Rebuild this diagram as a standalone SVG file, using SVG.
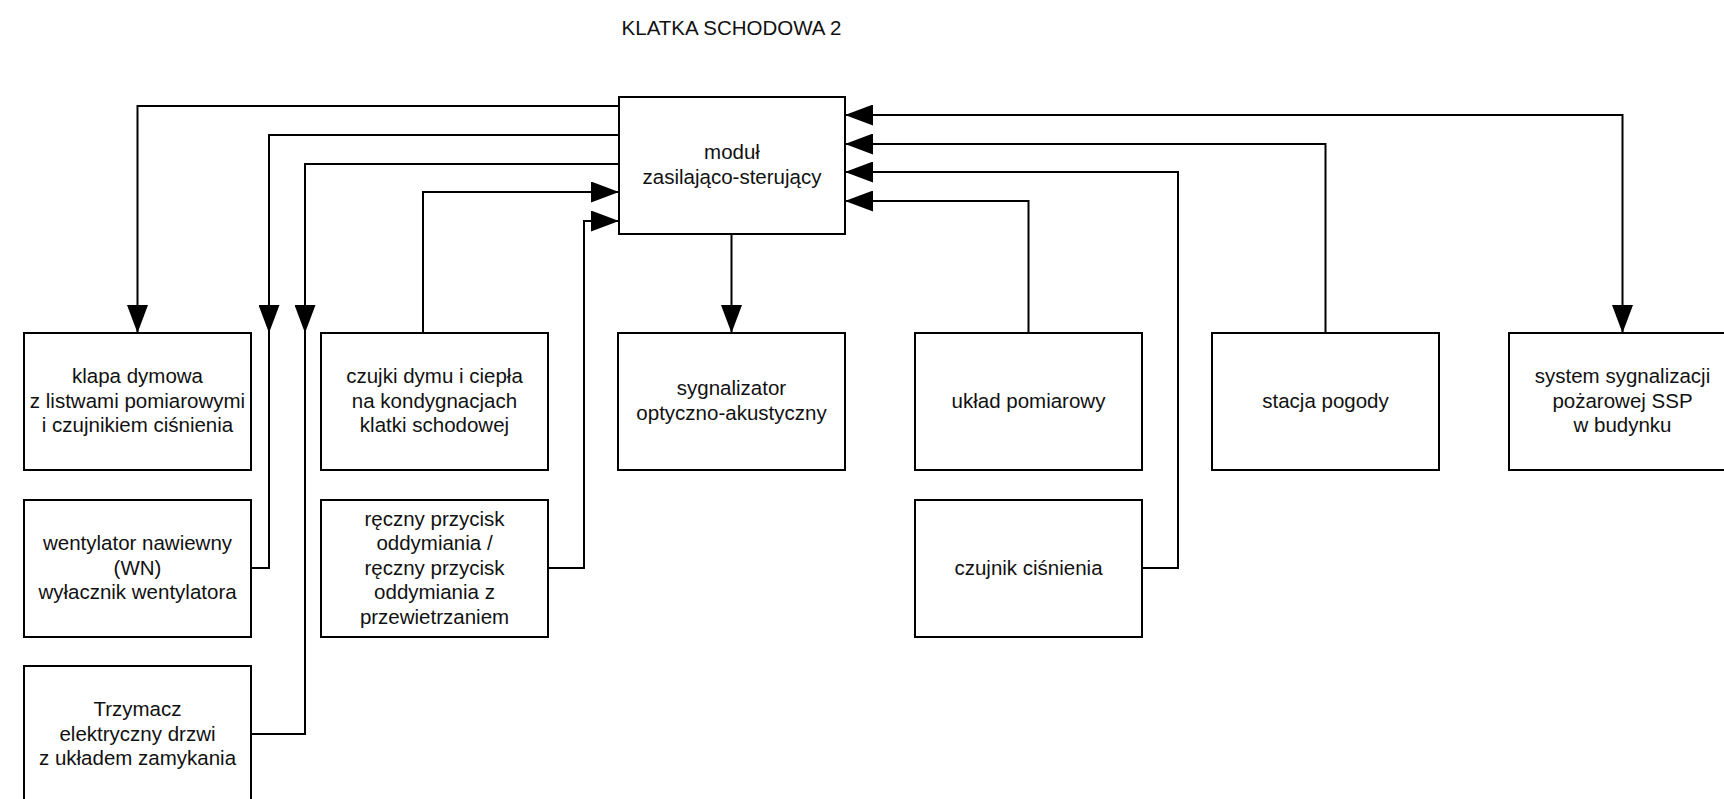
<svg xmlns="http://www.w3.org/2000/svg" width="1724" height="799" viewBox="0 0 1724 799">
<style>
.box{fill:#fff;stroke:#000;stroke-width:2}
.t{font-family:"Liberation Sans",Arial,sans-serif;font-size:20.5px;fill:#111;text-anchor:middle}
.c{fill:none;stroke:#000;stroke-width:2}
.a{marker-end:url(#arr)}
</style>
<defs>
<marker id="arr" markerUnits="userSpaceOnUse" markerWidth="28" markerHeight="21" refX="28" refY="10.5" orient="auto-start-reverse" viewBox="0 0 28 21">
<path d="M0,0 L28,10.5 L0,21 Z" fill="#000"/>
</marker>
</defs>
<rect width="1724" height="799" fill="#fff"/>
<text class="t" x="731.5" y="35">KLATKA SCHODOWA 2</text>

<g id="connectors">
<path class="c a" d="M619,106 H137.5 V333"/>
<path class="c a" d="M619,135 H269 V333"/>
<path class="c" d="M251,568 H269 V331"/>
<path class="c a" d="M619,164 H305 V333"/>
<path class="c" d="M251,734 H305 V331"/>
<path class="c a" d="M423,333 V192 H619"/>
<path class="c a" d="M548,568 H584 V221 H619"/>
<path class="c a" d="M731.5,234 V333"/>
<path class="c a" d="M845,115 H1622.5 V333" style="marker-start:url(#arr)"/>
<path class="c a" d="M1325.5,333 V144 H845"/>
<path class="c a" d="M1142,568 H1178 V172 H845"/>
<path class="c a" d="M1028.5,333 V201 H845"/>
</g>

<g id="modul">
<rect class="box" x="619" y="97" width="226" height="137"/>
<text class="t" x="732" y="159.25">moduł</text>
<text class="t" x="732" y="183.75">zasilająco-sterujący</text>
</g>

<g id="klapa">
<rect class="box" x="24" y="333" width="227" height="137"/>
<text class="t" x="137.5" y="383">klapa dymowa</text>
<text class="t" x="137.5" y="407.5">z listwami pomiarowymi</text>
<text class="t" x="137.5" y="432">i czujnikiem ciśnienia</text>
</g>

<g id="czujki">
<rect class="box" x="321" y="333" width="227" height="137"/>
<text class="t" x="434.5" y="383">czujki dymu i ciepła</text>
<text class="t" x="434.5" y="407.5">na kondygnacjach</text>
<text class="t" x="434.5" y="432">klatki schodowej</text>
</g>

<g id="sygnalizator">
<rect class="box" x="618" y="333" width="227" height="137"/>
<text class="t" x="731.5" y="395.25">sygnalizator</text>
<text class="t" x="731.5" y="419.75">optyczno-akustyczny</text>
</g>

<g id="uklad">
<rect class="box" x="915" y="333" width="227" height="137"/>
<text class="t" x="1028.5" y="407.5">układ pomiarowy</text>
</g>

<g id="stacja">
<rect class="box" x="1212" y="333" width="227" height="137"/>
<text class="t" x="1325.5" y="407.5">stacja pogody</text>
</g>

<g id="ssp">
<rect class="box" x="1509" y="333" width="227" height="137"/>
<text class="t" x="1622.5" y="383">system sygnalizacji</text>
<text class="t" x="1622.5" y="407.5">pożarowej SSP</text>
<text class="t" x="1622.5" y="432">w budynku</text>
</g>

<g id="wentylator">
<rect class="box" x="24" y="500" width="227" height="137"/>
<text class="t" x="137.5" y="550">wentylator nawiewny</text>
<text class="t" x="137.5" y="574.5">(WN)</text>
<text class="t" x="137.5" y="599">wyłacznik wentylatora</text>
</g>

<g id="przycisk">
<rect class="box" x="321" y="500" width="227" height="137"/>
<text class="t" x="434.5" y="525.5">ręczny przycisk</text>
<text class="t" x="434.5" y="550">oddymiania /</text>
<text class="t" x="434.5" y="574.5">ręczny przycisk</text>
<text class="t" x="434.5" y="599">oddymiania z</text>
<text class="t" x="434.5" y="623.5">przewietrzaniem</text>
</g>

<g id="czujnik">
<rect class="box" x="915" y="500" width="227" height="137"/>
<text class="t" x="1028.5" y="574.5">czujnik ciśnienia</text>
</g>

<g id="trzymacz">
<rect class="box" x="24" y="666" width="227" height="137"/>
<text class="t" x="137.5" y="716">Trzymacz</text>
<text class="t" x="137.5" y="740.5">elektryczny drzwi</text>
<text class="t" x="137.5" y="765">z układem zamykania</text>
</g>
</svg>
